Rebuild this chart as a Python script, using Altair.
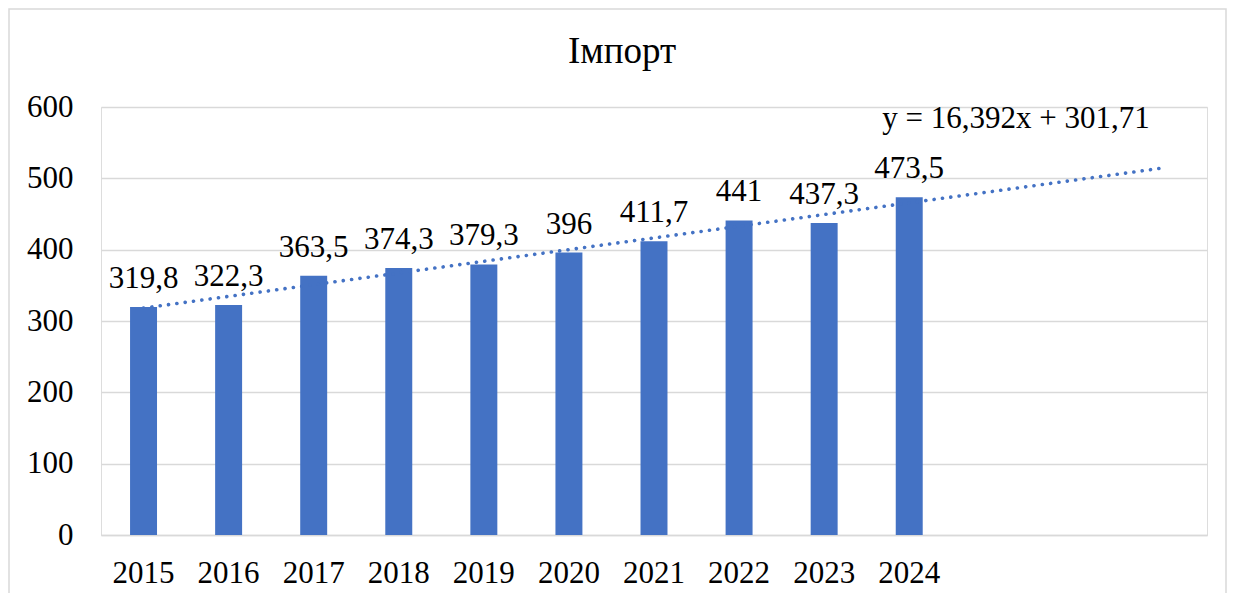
import altair as alt
import pandas as pd

years = ["2015", "2016", "2017", "2018", "2019", "2020", "2021", "2022", "2023", "2024"]
values = [319.8, 322.3, 363.5, 374.3, 379.3, 396.0, 411.7, 441.0, 437.3, 473.5]
forecast_slots = ["f1", "f2", "f3"]
y_ticks = [0, 100, 200, 300, 400, 500, 600]
title_text = "Імпорт"
equation_text = "y = 16,392x + 301,71"

FONT = "Liberation Serif"
BLUE = "#4472C4"
GRID = "#d9d9d9"

df = pd.DataFrame({
    "year": years,
    "value": values,
    "t": list(range(1, len(years) + 1)),
    "label": [f"{v:g}".replace(".", ",") for v in values],
})

W, H = 1106, 428
domain_x = years + forecast_slots

xband = alt.X(
    "year:N",
    sort=domain_x,
    scale=alt.Scale(domain=domain_x, paddingInner=0.683, paddingOuter=0.3415),
    axis=alt.Axis(
        title=None, labelAngle=0, ticks=False, domainColor=GRID, domainWidth=1.3,
        labelFont=FONT, labelFontSize=31, labelColor="black", labelPadding=23,
        labelExpr="indexof(['f1','f2','f3'], datum.value) >= 0 ? '' : datum.value",
    ),
)
yq = alt.Y(
    "value:Q",
    scale=alt.Scale(domain=[0, 600], nice=False),
    axis=alt.Axis(
        title=None, values=y_ticks, format="d", ticks=False, domain=False,
        gridColor=GRID, gridWidth=1.3, labelFont=FONT, labelFontSize=31,
        labelColor="black", labelPadding=28,
    ),
)

base = alt.Chart(df)

bars = base.mark_bar(color=BLUE).encode(x=xband, y=yq)
labels = base.mark_text(
    font=FONT, fontSize=31, color="black", baseline="alphabetic", dy=-19
).encode(x=alt.X("year:N", sort=domain_x), y=alt.Y("value:Q"), text="label:N")

cat_layer = alt.layer(bars, labels)

trend = base.transform_regression(
    "t", "value", method="linear", extent=[1, len(domain_x)]
).mark_line(
    color=BLUE, strokeWidth=3.6, strokeCap="round", strokeDash=[0.1, 8.3]
).encode(
    x=alt.X("t:Q", scale=alt.Scale(domain=[0.5, len(domain_x) + 0.5], nice=False, zero=False), axis=None),
    y=alt.Y("value:Q"),
)

equation = alt.Chart(pd.DataFrame({"txt": [equation_text]})).mark_text(
    font=FONT, fontSize=31, color="black", baseline="alphabetic", align="center"
).encode(x=alt.value(915), y=alt.value(21), text="txt:N")

title = alt.Chart(pd.DataFrame({"txt": [title_text]})).mark_text(
    font=FONT, fontSize=37, color="black", baseline="alphabetic", align="center"
).encode(x=alt.value(521), y=alt.value(-44), text="txt:N")

border = alt.Chart(pd.DataFrame({"a": [0]})).mark_rect(
    fillOpacity=0, stroke=GRID, strokeWidth=1.5
).encode(x=alt.value(-92), x2=alt.value(W + 19), y=alt.value(-98), y2=alt.value(H + 80))

chart = alt.layer(border, title, cat_layer, trend, equation).resolve_scale(
    x="independent"
).properties(
    width=W,
    height=H,
    padding={"left": 93, "top": 99, "right": 20, "bottom": 58},
    autosize=alt.AutoSizeParams(type="none"),
).configure_view(stroke=None).configure(background="white", font=FONT)

chart.save("out.html", embed_options={"renderer": "svg", "actions": False})
